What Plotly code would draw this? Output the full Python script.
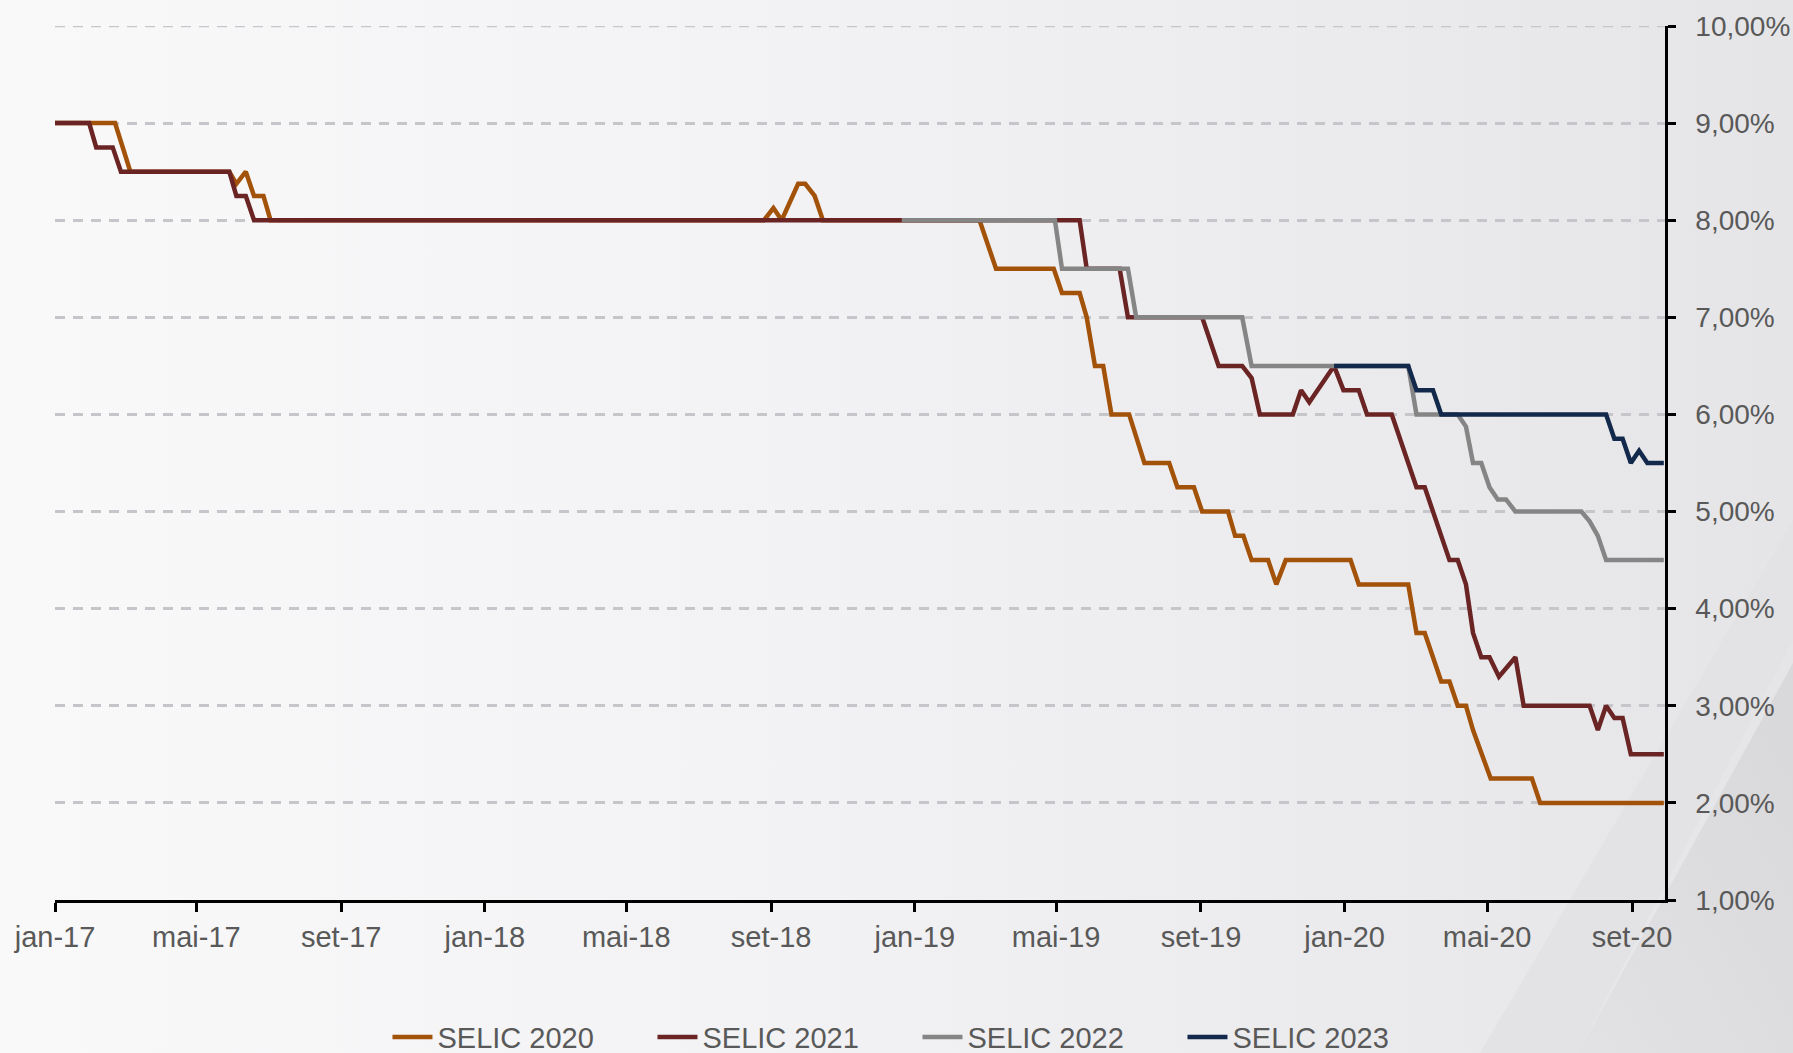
import base64
import plotly.graph_objects as go

# ---------------- data ----------------
selic2020_dates = ["2017-01-01","2017-02-21","2017-03-06","2017-05-29","2017-06-04","2017-06-12","2017-06-19","2017-06-27","2017-07-03",
                   "2018-08-26","2018-09-03","2018-09-10","2018-09-24","2018-09-30","2018-10-08","2018-10-15",
                   "2019-02-25","2019-03-11","2019-04-29","2019-05-06","2019-05-21","2019-05-27","2019-06-03","2019-06-10","2019-06-17",
                   "2019-07-02","2019-07-15","2019-08-05","2019-08-12","2019-08-26","2019-09-02","2019-09-24","2019-09-30","2019-10-07",
                   "2019-10-14","2019-10-28","2019-11-04","2019-11-12","2020-01-06","2020-01-13","2020-02-24","2020-03-02","2020-03-09",
                   "2020-03-23","2020-03-30","2020-04-06","2020-04-13","2020-04-19","2020-05-04","2020-06-08","2020-06-15","2020-09-28"]
selic2020_vals = [9.00,9.00,8.50,8.50,8.375,8.50,8.25,8.25,8.00,
                  8.00,8.125,8.00,8.375,8.375,8.25,8.00,
                  8.00,7.50,7.50,7.25,7.25,7.00,6.50,6.50,6.00,
                  6.00,5.50,5.50,5.25,5.25,5.00,5.00,4.75,4.75,
                  4.50,4.50,4.25,4.50,4.50,4.25,4.25,3.75,3.75,
                  3.25,3.25,3.00,3.00,2.75,2.25,2.25,2.00,2.00]

selic2021_dates = ["2017-01-01","2017-01-30","2017-02-05","2017-02-19","2017-02-26","2017-05-29","2017-06-04","2017-06-12","2017-06-19",
                   "2019-05-21","2019-05-27","2019-06-24","2019-07-01","2019-09-02","2019-09-16","2019-10-06","2019-10-14","2019-10-21",
                   "2019-11-18","2019-11-25","2019-12-02","2019-12-23","2019-12-31","2020-01-13","2020-01-20","2020-02-10","2020-03-02",
                   "2020-03-09","2020-03-30","2020-04-06","2020-04-13","2020-04-19","2020-04-26","2020-05-03","2020-05-11","2020-05-25",
                   "2020-06-01","2020-07-27","2020-08-03","2020-08-10","2020-08-17","2020-08-24","2020-08-31","2020-09-28"]
selic2021_vals = [9.00,9.00,8.75,8.75,8.50,8.50,8.25,8.25,8.00,
                  8.00,7.50,7.50,7.00,7.00,6.50,6.50,6.375,6.00,
                  6.00,6.25,6.125,6.50,6.25,6.25,6.00,6.00,5.25,
                  5.25,4.50,4.50,4.25,3.75,3.50,3.50,3.30,3.50,
                  3.00,3.00,2.75,3.00,2.875,2.875,2.50,2.50]

selic2022_dates = ["2018-12-21","2019-04-30","2019-05-06","2019-07-01","2019-07-08","2019-10-06","2019-10-14","2020-02-24","2020-03-02",
                   "2020-04-06","2020-04-13","2020-04-19","2020-04-26","2020-05-03","2020-05-10","2020-05-17","2020-05-25","2020-07-20",
                   "2020-07-27","2020-08-03","2020-08-10","2020-09-28"]
selic2022_vals = [8.00,8.00,7.50,7.50,7.00,7.00,6.50,6.50,6.00,
                  6.00,5.875,5.50,5.50,5.25,5.125,5.125,5.00,5.00,
                  4.90,4.75,4.50,4.50]

selic2023_dates = ["2019-12-23","2020-02-24","2020-03-02","2020-03-16","2020-03-23","2020-08-10","2020-08-17","2020-08-24",
                   "2020-08-31","2020-09-07","2020-09-14","2020-09-28"]
selic2023_vals = [6.50,6.50,6.25,6.25,6.00,6.00,5.75,5.75,5.50,5.625,5.50,5.50]

series_names = ["SELIC 2020", "SELIC 2021", "SELIC 2022", "SELIC 2023"]

x_tick_vals = ["2017-01-01","2017-05-01","2017-09-01","2018-01-01","2018-05-01","2018-09-01",
               "2019-01-01","2019-05-01","2019-09-01","2020-01-01","2020-05-01","2020-09-01"]
x_tick_text = ["jan-17","mai-17","set-17","jan-18","mai-18","set-18",
               "jan-19","mai-19","set-19","jan-20","mai-20","set-20"]
y_tick_vals = [1,2,3,4,5,6,7,8,9,10]
y_tick_text = ["1,00%","2,00%","3,00%","4,00%","5,00%","6,00%","7,00%","8,00%","9,00%","10,00%"]
y_min, y_max = 1, 10

# ---------------- style ----------------
W, H = 1793, 1053
ML, MR, MT, MB = 55, 128, 26, 153
PW, PH = W - ML - MR, H - MT - MB
colors = ["#A3520A", "#6A2424", "#858585", "#13294B"]
FONT = "Liberation Sans, Arial, sans-serif"
TXT = "#595959"
GRID = "#c6c6ca"

svg = f'''<svg xmlns="http://www.w3.org/2000/svg" width="{W}" height="{H}" viewBox="0 0 {W} {H}">
<defs><linearGradient id="g" x1="0" y1="0" x2="1" y2="0">
<stop offset="0" stop-color="#f9f9fa"/><stop offset="0.45" stop-color="#f2f2f4"/><stop offset="1" stop-color="#e5e5e7"/>
</linearGradient>
<linearGradient id="w" x1="0" y1="1" x2="1" y2="0">
<stop offset="0" stop-color="#e2e2e4"/><stop offset="1" stop-color="#d8d8da"/>
</linearGradient></defs>
<rect width="{W}" height="{H}" fill="url(#g)"/>
<polygon points="1480,1053 1793,520 1793,640 1578,1053" fill="#e3e3e5"/>
<polygon points="1578,1053 1793,663 1793,1053" fill="url(#w)"/>
</svg>'''
uri = "data:image/svg+xml;base64," + base64.b64encode(svg.encode()).decode()

fig = go.Figure()
for name, xs, ys, c in zip(series_names,
                           [selic2020_dates, selic2021_dates, selic2022_dates, selic2023_dates],
                           [selic2020_vals, selic2021_vals, selic2022_vals, selic2023_vals],
                           colors):
    fig.add_trace(go.Scatter(x=xs, y=ys, name=name, mode="lines",
                             line=dict(color=c, width=4.5)))

# top gridline (Plotly drops grid lines lying on the plot edge)
fig.add_shape(type="line", xref="paper", yref="y", x0=0, x1=1, y0=y_max, y1=y_max,
              line=dict(color=GRID, width=2.5, dash="10px,8px"), layer="below")

fig.update_layout(
    width=W, height=H,
    margin=dict(l=ML, r=MR, t=MT, b=MB, pad=0, autoexpand=False),
    paper_bgcolor="#f0f0f2",
    plot_bgcolor="rgba(0,0,0,0)",
    font=dict(family=FONT, size=29, color=TXT),
    showlegend=True,
    legend=dict(orientation="h", xref="container", yref="container",
                x=0.5117, xanchor="center", y=0.015, yanchor="middle",
                font=dict(size=29, color=TXT), bgcolor="rgba(0,0,0,0)",
                entrywidth=210, itemwidth=40),
    images=[dict(source=uri, xref="paper", yref="paper",
                 x=-ML / PW, y=1 + MT / PH, sizex=W / PW, sizey=H / PH,
                 xanchor="left", yanchor="top", sizing="stretch", layer="below")],
    xaxis=dict(type="date", range=["2017-01-01", "2020-09-29"],
               tickvals=x_tick_vals, ticktext=x_tick_text,
               showgrid=False, zeroline=False, automargin=False,
               showline=True, linecolor="black", linewidth=3,
               ticks="outside", ticklen=9, tickwidth=3, tickcolor="black",
               tickfont=dict(size=29, color=TXT), ticklabelstandoff=0),
    yaxis=dict(side="right", range=[y_min, y_max],
               tickvals=y_tick_vals, ticktext=y_tick_text,
               showgrid=True, gridcolor=GRID, gridwidth=2.5, griddash="10px,8px",
               zeroline=False, automargin=False,
               showline=True, linecolor="black", linewidth=2.5,
               ticks="outside", ticklen=8, tickwidth=2.5, tickcolor="black",
               tickfont=dict(size=28, color=TXT), ticklabelstandoff=14),
)

fig.write_html("out.html", config={"displayModeBar": False},
               post_script="document.body.style.margin='0';document.body.style.overflow='hidden';")
